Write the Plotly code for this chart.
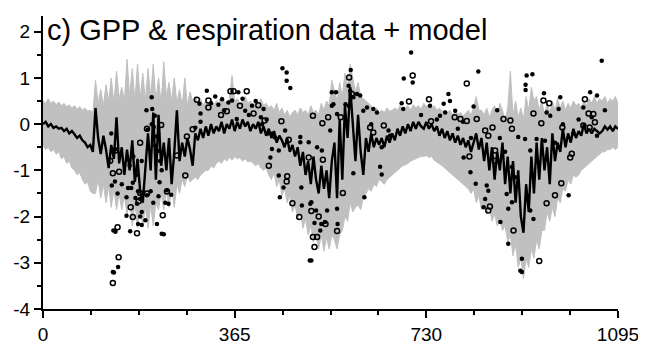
import plotly.graph_objects as go

# ---------------- data ----------------
# model nodes every 5 days (day 0 .. 1095)
day = list(range(0, 1096, 5))

model_mean = [
    0.0, 0.05, -0.05, 0.0, -0.08, -0.05, -0.1, -0.08, -0.15, -0.1,
    -0.2, -0.15, -0.22, -0.3, -0.25, -0.35, -0.4, -0.5, -0.45, -0.6,
    0.35, -0.3, -0.65, -0.25, -0.55, -0.95, -0.45, -0.75, 0.15, -0.85,
    -0.5, -1.1, -0.55, -1.0, -0.35, -1.25, -0.75, -1.45, -1.7, -0.9,
    -0.2, -1.0, 0.25, -1.2, 0.2, -0.9, -0.4, -1.0, -0.3, -1.3,
    -0.6, 0.3, -0.8, -0.4, -0.7, -0.3, -0.55,
    -0.9, -0.2, -0.35, -0.1, -0.3, -0.05, -0.25, 0.0, -0.2, -0.05,
    -0.15, 0.05, -0.2, 0.0, -0.1, 0.1, -0.15, 0.05, -0.1, 0.1,
    -0.05, 0.05, -0.15, 0.0, -0.1, 0.05, -0.2, -0.05, -0.25, -0.1,
    -0.3, -0.15, -0.4, -0.25, -0.35, -0.5, -0.3, -0.6, -0.45, -0.7,
    -0.5, -0.9, -0.6, -1.1, -0.8, -1.3, -0.7, -1.2, -1.5, -0.9,
    -1.4, -1.0, -1.6, -0.8,
    -0.4, -1.6, 0.1, -1.2, 0.4, -0.3, 0.8, 0.0, -0.8, 0.2,
    -0.6, -1.1, -0.3, -0.6, -0.2, -0.5, -0.3, -0.45,
    -0.3, -0.5, -0.25, -0.4, -0.2, -0.35, -0.1, -0.25, -0.05, -0.2,
    0.0, -0.15, 0.05, -0.1, 0.05, -0.05, -0.1, 0.05, -0.1, 0.0,
    -0.15, -0.05, -0.25, -0.1, -0.3, -0.15, -0.35, -0.2, -0.4, -0.25,
    -0.45, -0.3, -0.5, -0.35, -0.6, -0.4, -0.2, -0.55,
    -0.3, -0.8, -0.4, -1.0, -0.5, -1.2, -0.6, -1.0, -0.4, -1.3,
    -0.7, -1.5, -0.8, -1.7, -1.0, -2.0, -2.35, -1.3, -1.9, -0.7, -1.5,
    -0.4, -1.2, -0.3, -1.0, -0.5, -1.3, -0.2, -0.8, -0.4, -0.6,
    -0.1, -0.5, -0.2, -0.4, -0.1, -0.3, -0.15, -0.25, 0.0, -0.2,
    -0.1, -0.2, -0.1, -0.15, -0.2, -0.15, -0.05, -0.12, -0.05, -0.15,
    -0.05, -0.1,
]

model_upper = [
    0.5, 0.45, 0.55, 0.45, 0.5, 0.42, 0.48, 0.4, 0.45, 0.38,
    0.42, 0.35, 0.4, 0.32, 0.38, 0.3, 0.35, 0.28, 0.3, 0.25,
    0.95, 0.45, 0.75, 0.4, 0.85, 0.5, 1.0, 0.45, 1.15, 0.55,
    0.8, 0.5, 1.4, 0.6, 1.2, 0.5, 1.3, 0.55, 1.1, 0.5,
    1.2, 0.6, 1.3, 0.5, 1.0, 0.45, 1.35, 0.6, 0.9, 0.5,
    1.0, 0.45, 0.75, 0.4, 1.0, 0.4, 0.7,
    0.5, 0.6, 0.45, 0.55, 0.4, 0.5, 0.42, 0.55, 0.4, 0.5,
    0.45, 0.6, 0.5, 0.45, 0.55, 1.05, 0.5, 0.55, 0.45, 0.5,
    0.6, 0.45, 0.5, 0.42, 0.5, 0.45, 0.55, 0.4, 0.45, 0.35,
    0.4, 0.3, 0.45, 0.25, 0.35, 0.2, 0.3, 0.15, 0.25, 0.3,
    0.2, 0.35, 0.25, 0.3, 0.2, 0.4, 0.25, 0.3, 0.2, 0.45,
    0.3, 0.5, 0.4, 0.95,
    0.7, 0.5, 0.9, 0.6, 1.1, 0.8, 1.3, 1.0, 0.7, 0.9,
    0.6, 0.55, 0.5, 0.45, 0.4, 0.3, 0.35, 0.25,
    0.3, 0.25, 0.35, 0.28, 0.3, 0.35, 0.3, 0.4, 0.3, 0.35,
    0.4, 0.3, 0.42, 0.35, 0.4, 0.32, 0.45, 0.38, 0.42, 0.35,
    0.4, 0.3, 0.35, 0.28, 0.3, 0.25, 0.3, 0.2, 0.28, 0.22,
    0.25, 0.18, 0.25, 0.3, 0.2, 0.35, 0.6, 0.3,
    0.3, 0.2, 0.35, 0.15, 0.3, 0.4, 0.2, 0.45, 0.3, 0.1,
    0.35, 1.15, 0.2, 0.5, 0.15, 0.35, 0.1, 0.6, 0.3, 0.8, 0.5,
    0.6, 0.3, 0.5, 0.2, 0.45, 0.25, 0.5, 0.3, 0.55, 0.35,
    0.5, 0.3, 0.45, 0.35, 0.5, 0.4, 0.45, 0.35, 0.5, 0.4,
    0.55, 0.45, 0.6, 0.45, 0.55, 0.5, 0.6, 0.45, 0.55, 0.5,
    0.6, 0.45,
]

model_lower = [
    -0.45, -0.55, -0.5, -0.6, -0.55, -0.65, -0.6, -0.75, -0.7, -0.85,
    -0.8, -0.95, -1.0, -1.1, -1.05, -1.2, -1.3, -1.25, -1.45, -1.5,
    -1.5, -1.2, -1.6, -1.3, -1.7, -1.35, -1.8, -1.4, -1.85, -1.5,
    -1.85, -1.55, -1.95, -1.6, -2.2, -1.7, -2.25, -1.75, -2.2, -1.8,
    -2.25, -1.75, -2.2, -1.7, -1.85, -1.5, -1.85, -1.45, -1.8, -1.4,
    -1.8, -1.3, -1.5, -1.2, -1.35, -1.1, -1.25,
    -1.2, -1.15, -1.2, -1.1, -1.05, -1.0, -1.0, -0.9, -0.95, -0.85,
    -0.8, -0.85, -0.75, -0.8, -0.72, -0.78, -0.7, -0.75, -0.72, -0.8,
    -0.75, -0.82, -0.8, -0.85, -0.9, -0.85, -0.95, -1.0, -0.95, -1.1,
    -1.2, -1.05, -1.35, -1.2, -1.55, -1.4, -1.7, -1.55, -1.9, -1.75,
    -2.05, -1.9, -2.25, -2.05, -2.4, -2.2, -2.55, -2.35, -2.7, -2.4,
    -2.75, -2.45, -2.7, -2.4,
    -2.5, -2.7, -2.4, -2.3, -2.0, -2.1, -1.7, -1.9, -1.8, -1.75,
    -1.85, -1.6, -1.5, -1.4, -1.45, -1.3, -1.35, -1.2,
    -1.25, -1.3, -1.2, -1.15, -1.1, -1.05, -1.0, -0.95, -0.9, -0.88,
    -0.85, -0.8, -0.78, -0.75, -0.72, -0.7, -0.7, -0.68, -0.72, -0.7,
    -0.78, -0.82, -0.85, -0.9, -0.95, -1.0, -1.05, -1.1, -1.15, -1.2,
    -1.25, -1.3, -1.35, -1.4,
    -1.5, -1.4, -1.7, -1.55, -1.85, -1.7, -1.95, -1.8, -2.1, -1.95,
    -2.2, -2.05, -2.3, -2.2, -2.55, -2.4, -2.85, -2.6, -3.1, -2.9,
    -3.35, -2.9, -3.1, -2.7, -2.9, -2.5, -2.7, -2.3, -2.3, -1.9,
    -2.1, -1.8, -2.0, -1.6, -1.7, -1.4, -1.45, -1.2, -1.3, -1.1,
    -1.15, -1.1, -1.0, -0.95, -0.9, -0.85, -0.8, -0.75, -0.7, -0.65,
    -0.6, -0.6, -0.55, -0.55, -0.5, -0.55, -0.5,
]

# observations: open circles
open_day = [
    128, 133, 138, 133, 144, 142, 145, 167, 171, 179, 182, 185, 185, 198,
    198, 225, 228, 236, 255, 271, 274, 293,
    315, 315, 339, 350, 357, 363, 375, 388, 401, 410, 422, 285, 430, 454,
    465, 464, 468, 475, 488, 506, 511, 514, 514, 517, 522, 525, 533, 532,
    538, 543,
    560, 567, 571, 583, 588, 623, 629, 649, 697, 704, 735, 739, 784, 795,
    807, 807, 812, 826,
    842, 848, 848, 851, 856, 861, 861, 877, 890, 893, 896, 934, 945, 949,
    953, 959, 964, 975, 987, 989, 1004, 1007, 1029, 1032, 1039, 1041, 1048,
    1051,
]
open_val = [
    -0.79, -1.06, -0.57, -3.44, -2.88, -2.23, -1.03, -1.8, -2.01, -2.36, -1.67,
    -1.49, -0.4, -0.1, -1.5, -0.02, -1.97, -1.46, -0.68, -1.11, -0.27, 0.53,
    0.51, 0.36, 0.2, 0.28, 0.71, 0.71, 0.4, 0.71, 0.23, 0.41, 0.08, -0.11,
    -0.9, 0.06, -1.13, -1.24, -0.34, -1.71, -2.01, -0.72, -1.88, 0.18, -2.44,
    -2.66, -2.44, -2.0, -0.77, 0.02, -2.16, 0.15,
    -2.31, 0.15, -1.49, 1.01, 0.65, -0.07, -0.18, -0.03, 0.49, 1.05, 0.54,
    0.06, 0.15, 0.11, 0.07, 0.88, -0.7, 0.11,
    -0.14, -0.25, -1.87, -1.78, -0.07, -0.57, -0.79, 0.11, 0.08, -0.1, -2.3,
    0.23, -2.96, 0.02, 0.51, -1.71, 0.45, -1.54, -1.28, -0.07, -0.72, -0.64,
    -0.03, 0.54, 0.23, -0.07, 0.22, 0.04,
]

# observations: filled dots
fill_day = [
    130, 131, 133, 135, 134, 137, 137, 138, 143, 142, 150, 159, 159, 162,
    165, 166, 168, 171, 172, 176, 177, 179, 181, 181, 185, 185, 188, 188,
    188, 195, 197, 198, 199, 205, 207, 207, 208, 210, 211, 213, 214, 217,
    217, 220, 220, 223, 226, 226, 230, 233, 236, 239, 244, 222,
    290, 298, 300, 300, 312, 320, 328, 334, 341, 345, 353, 360, 369, 372,
    380, 385, 392, 398, 405, 415, 417, 420, 426, 428, 433, 436, 436, 442,
    449, 449, 451, 456, 458, 461, 464, 464, 471, 490, 490, 492, 493, 506,
    508, 509, 511, 511, 517, 520, 522, 528, 530, 531, 537, 541, 547, 550,
    550,
    553, 558, 560, 560, 561, 576, 582, 582, 585, 586, 591, 591, 598, 604,
    610, 612, 617, 625, 629, 636, 642, 645, 645, 658, 661, 683, 686, 687,
    701, 704, 720, 737, 750, 756, 763, 766, 772, 775, 785, 790, 800, 801,
    814, 815, 820, 824, 829,
    839, 842, 845, 848, 865, 870, 871, 880, 883, 886, 886, 893, 893, 899,
    905, 909, 912, 912, 918, 919, 919, 921, 928, 928, 932, 934, 940, 954,
    956, 959, 966, 975, 982, 985, 990, 1001, 1010, 1020, 1029, 1042, 1045,
    1055, 1055, 1064, 1070,
]
fill_val = [
    -0.2, -1.33, -3.2, -3.21, -2.3, -1.24, -0.55, -2.33, -3.09, -1.5, -1.3,
    -1.58, -1.98, -1.38, -0.9, -2.32, -1.38, -1.27, -0.7, -1.6, -1.1, -1.72,
    -2.16, -1.45, -1.62, -2.0, -2.18, -1.9, -0.8, -2.08, 0.3, -1.54, -0.12,
    -1.45, 0.58, 0.0, 0.33, -1.7, -0.06, 0.18, -0.47, -0.27, -2.16, -0.58,
    -1.56, -0.8, -1.0, -2.37, -2.38, -1.7, -1.43, -1.72, -1.53, -1.26,
    -0.08, 0.44, 0.23, 0.05, 0.72, 0.45, 0.6, 0.42, 0.54, 0.3, 0.47, 0.51,
    0.11, 0.69, 0.55, 0.29, 0.2, 0.4, 0.5, 0.15, 0.0, 0.33, 0.1, -0.2,
    -0.72, -0.21, -0.54, -0.29, -0.57, -1.11, -1.58, 1.21, -1.37, -0.14,
    1.12, 0.94, 0.78, -0.28, -0.39, -1.37, -1.76, -0.39, -2.95, -1.72,
    -1.69, -2.95, -2.14, -1.87, -0.5, -2.3, -2.16, -0.57, -2.12, -1.87,
    -0.14, 0.69, 0.4,
    0.43, 0.69, 0.22, -1.83, -2.16, 0.43, 0.83, 0.4, 0.72, 1.17, 0.58, -1.06,
    0.65, 0.62, 0.29, -1.58, 0.36, 0.0, 0.33, 0.25, -0.92, -1.09, -0.5,
    -0.14, -0.25, 0.45, 0.33, 0.99, 1.55, 0.9, 0.2, 0.4, 0.1, 0.18, 0.44,
    0.25, 0.65, 0.5, 0.29, -0.1, 0.05, -0.72, -1.04, -0.3, 0.38, -1.29, 1.14,
    -1.8, -1.62, -1.33, -1.44, 0.3, -0.3, -2.12, -0.6, -1.51, -1.83, -2.59,
    -0.93, -1.69, -1.15, -0.28, -3.17, -2.91, -3.2, -0.32, 0.85, 0.74, 1.05,
    -0.57, -1.87, 1.08, -2.05, -0.32, 0.67, -0.36, 0.25, 0.18, -0.4, 0.33,
    0.58, 0.0, -1.54, -0.2, 0.1, 0.36, 0.69, 0.15, 0.62, -0.25, 1.37, 0.3,
]

x_ticks = [0, 365, 730, 1095]
x_minor = [91.25, 182.5, 273.75, 456.25, 547.5, 638.75, 821.25, 912.5, 1003.75]
y_ticks = [-4, -3, -2, -1, 0, 1, 2]
y_ticklabels = ["-4", "-3", "-2", "-1", "0", "1", "2"]
title_text = "c) GPP & respiration data + model"

# ---------------- figure ----------------
FONT = "Liberation Sans, Arial, sans-serif"
GRAY = "#c0c0c0"

fig = go.Figure()
fig.add_trace(go.Scatter(x=day, y=model_upper, mode="lines",
                         line=dict(color=GRAY, width=1), hoverinfo="skip",
                         showlegend=False))
fig.add_trace(go.Scatter(x=day, y=model_lower, mode="lines", fill="tonexty",
                         fillcolor=GRAY, line=dict(color=GRAY, width=1),
                         hoverinfo="skip", showlegend=False))
fig.add_trace(go.Scatter(x=day, y=model_mean, mode="lines",
                         line=dict(color="black", width=2.4), showlegend=False))
fig.add_trace(go.Scatter(x=open_day, y=open_val, mode="markers",
                         marker=dict(symbol="circle-open", size=5, color="black",
                                     line=dict(width=1.5, color="black")),
                         showlegend=False))
fig.add_trace(go.Scatter(x=fill_day, y=fill_val, mode="markers",
                         marker=dict(symbol="circle", size=4.5, color="black"),
                         showlegend=False))

axis_common = dict(showline=True, linecolor="black", linewidth=2,
                   ticks="outside", ticklen=7, tickwidth=2, tickcolor="black",
                   showgrid=False, zeroline=False, automargin=False,
                   tickfont=dict(family=FONT, size=19, color="black"))

fig.update_xaxes(range=[0, 1095], tickvals=x_ticks,
                 ticktext=[str(v) for v in x_ticks],
                 minor=dict(tickvals=x_minor, ticks="outside", ticklen=4,
                            tickwidth=2, tickcolor="black", showgrid=False),
                 **axis_common)
fig.update_yaxes(range=[-4, 2.34], tickvals=y_ticks, ticktext=y_ticklabels,
                 minor=dict(dtick=0.5, tick0=0, ticks="outside", ticklen=4,
                            tickwidth=2, tickcolor="black", showgrid=False),
                 **axis_common)

fig.add_annotation(text=title_text, xref="paper", yref="paper",
                   x=0.004, y=0.89, xanchor="left", yanchor="bottom",
                   showarrow=False,
                   font=dict(family=FONT, size=29, color="black"))

# the page body adds an 8 px margin, so the figure is sized/margined to
# land the plot area where the reference has it in the 646x345 window
fig.update_layout(width=638, height=337,
                  margin=dict(l=35, r=28, t=8, b=36),
                  plot_bgcolor="white", paper_bgcolor="white",
                  showlegend=False)

fig.write_html("out.html")
